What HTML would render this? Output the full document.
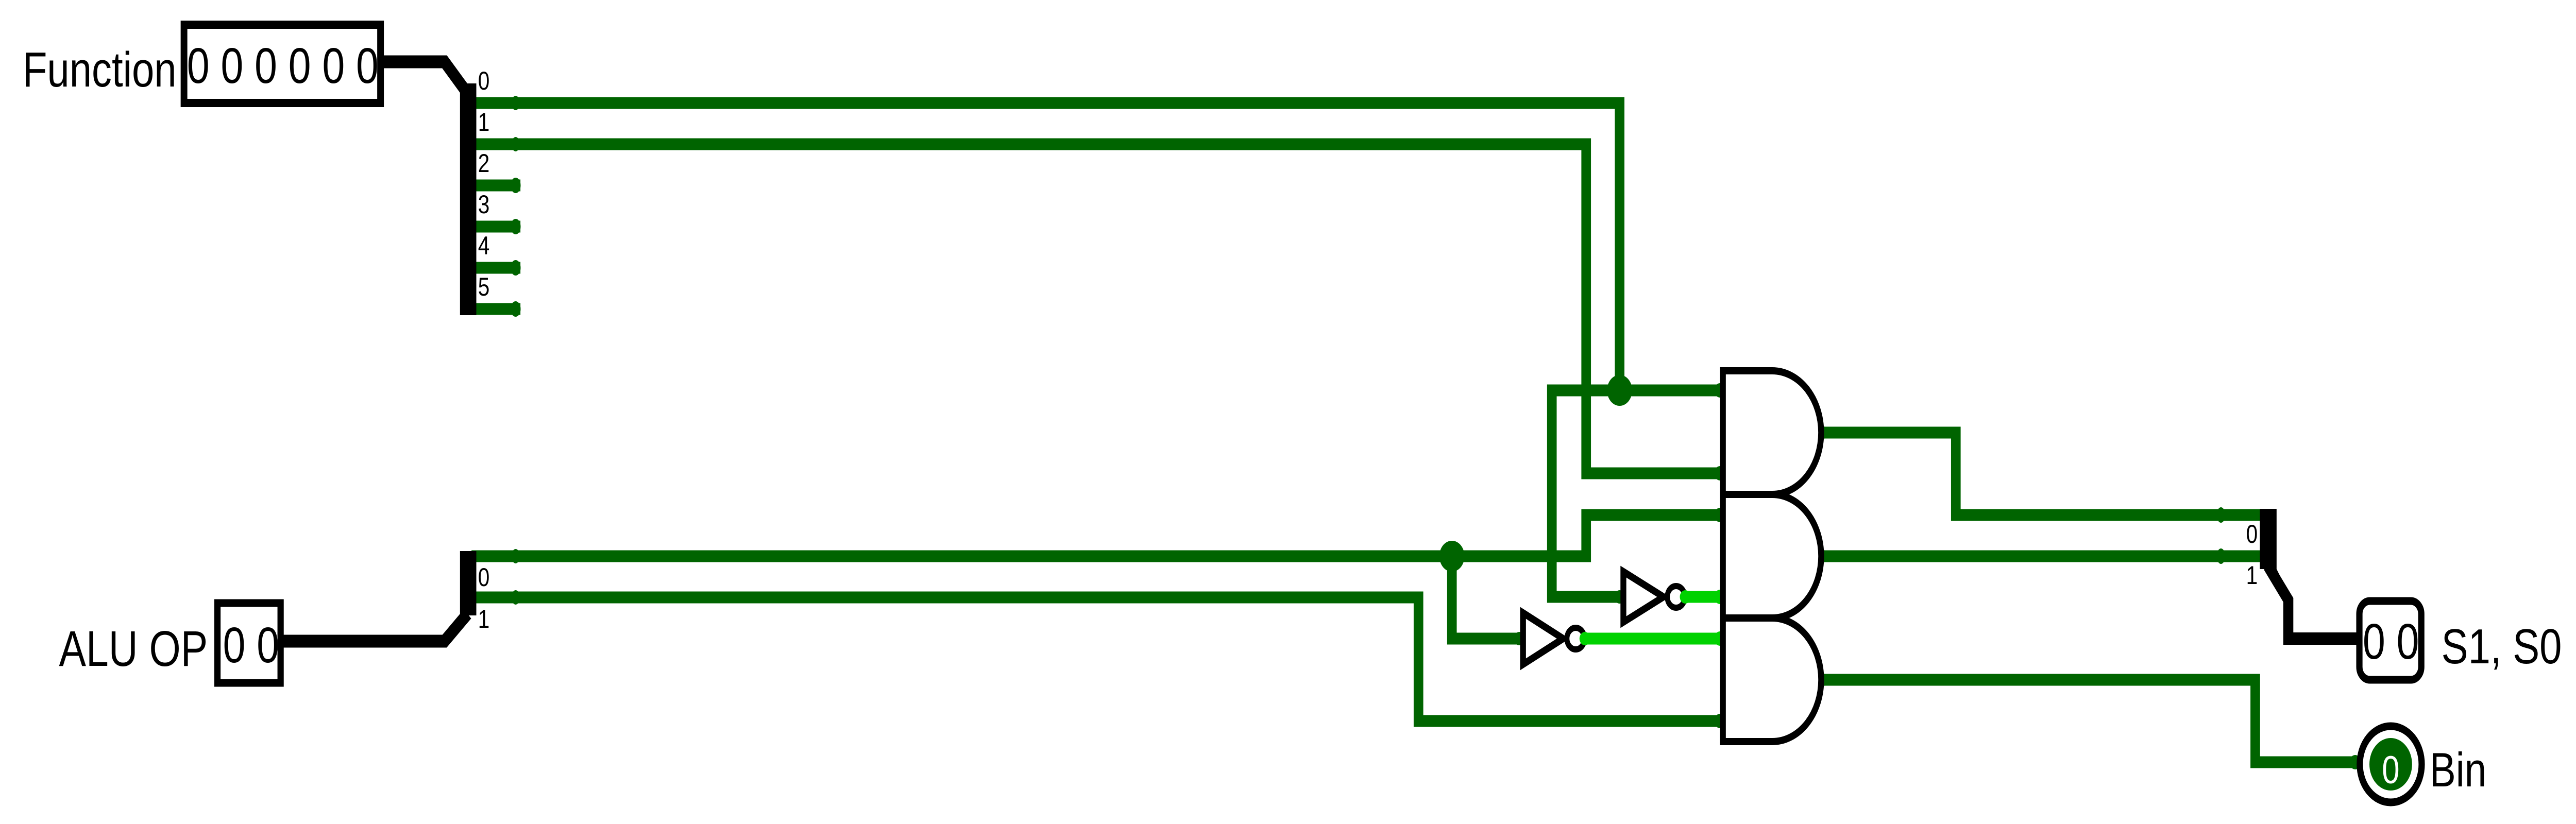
<!DOCTYPE html>
<html><head><meta charset="utf-8"><style>
html,body{margin:0;padding:0;background:#fff;width:100%;height:100%;overflow:hidden;}
svg{display:block;width:100vw;height:100vh;font-family:"Liberation Sans",sans-serif;}
</style></head><body>
<svg viewBox="0 0 6160 1600" preserveAspectRatio="none" xmlns="http://www.w3.org/2000/svg">
<rect width="6160" height="1600" fill="#fff"/>

<g fill="none" stroke="#006400" stroke-width="23" stroke-linejoin="miter" stroke-linecap="square">
  <path d="M1139 200 H3873 V758"/>
  <path d="M1139 280 H3793 V919 H4113"/>
  <path d="M1139 360 H1233"/>
  <path d="M1139 440 H1233"/>
  <path d="M1139 520 H1233"/>
  <path d="M1139 600 H1233"/>
  <path d="M4113 758 H3711 V1159 H3873"/>
  <path d="M1139 1080 H3793 V1000 H4113"/>
  <path d="M3472 1080 V1240 H3633"/>
  <path d="M1139 1160 H3392 V1400 H4113"/>
  <path d="M4355 840 H4677 V1000 H5404"/>
  <path d="M4355 1080 H5404"/>
  <path d="M4355 1320 H5393 V1480 H5630"/>
</g>
<g stroke="#00d200" stroke-width="23" stroke-linecap="round" fill="none">
  <path d="M4033 1159 H4113"/>
  <path d="M3793 1240 H4113"/>
</g>

<g fill="#006400">
  <circle cx="3873" cy="758" r="30"/>
  <circle cx="3472" cy="1080" r="30"/>
  <ellipse cx="1233" cy="200" rx="10" ry="14"/><ellipse cx="1233" cy="280" rx="10" ry="14"/>
  <ellipse cx="1233" cy="360" rx="12" ry="15"/><ellipse cx="1233" cy="440" rx="12" ry="15"/>
  <ellipse cx="1233" cy="520" rx="12" ry="15"/><ellipse cx="1233" cy="600" rx="12" ry="15"/>
  <ellipse cx="1233" cy="1080" rx="10" ry="14"/><ellipse cx="1233" cy="1160" rx="10" ry="14"/>
  <circle cx="4113" cy="758" r="14"/><circle cx="4113" cy="919" r="14"/>
  <circle cx="4113" cy="1000" r="14"/><circle cx="4113" cy="1400" r="14"/>
  <circle cx="4355" cy="840" r="14"/><circle cx="4355" cy="1080" r="14"/><circle cx="4355" cy="1320" r="14"/>
  <circle cx="3873" cy="1159" r="13"/><circle cx="3633" cy="1240" r="13"/>
  <ellipse cx="5311" cy="1000" rx="10" ry="15"/><ellipse cx="5311" cy="1080" rx="10" ry="15"/>
  <circle cx="5632" cy="1480" r="14"/>
</g>
<g fill="#00d200"><circle cx="4113" cy="1159" r="14"/><circle cx="4113" cy="1240" r="14"/></g>

<g fill="#fff" stroke="#000" stroke-width="14" stroke-linejoin="miter">
  <path d="M4120 720 H4238 A117 120 0 0 1 4238 960 H4120 Z"/>
  <path d="M4120 960 H4238 A117 120 0 0 1 4238 1200 H4120 Z"/>
  <path d="M4120 1200 H4238 A117 120 0 0 1 4238 1440 H4120 Z"/>
  <path d="M3882 1110 L3978 1159 L3882 1208 Z"/>
  <circle cx="4008" cy="1159" r="21" stroke-width="12"/>
  <path d="M3642 1190 L3738 1240 L3642 1290 Z"/>
  <circle cx="3768" cy="1240" r="21" stroke-width="12"/>
</g>
<g fill="#00d200"><circle cx="4030" cy="1159" r="13"/><circle cx="3790" cy="1240" r="13"/></g>

<rect x="440" y="48" width="470" height="152" fill="#fff" stroke="#000" stroke-width="16"/>
<text x="447" y="161" font-size="97" fill="#000">0 0 0 0 0 0</text>
<text x="54" y="168" font-size="96" fill="#000">Function</text>
<path d="M910 120 H1063 L1115 178" fill="none" stroke="#000" stroke-width="25"/>
<rect x="1100" y="162" width="39" height="450" fill="#000"/>
<g font-size="50" fill="#000">
  <text x="1143" y="174">0</text><text x="1143" y="254">1</text><text x="1143" y="334">2</text>
  <text x="1143" y="414">3</text><text x="1143" y="494">4</text><text x="1143" y="574">5</text>
</g>

<rect x="520" y="1171" width="151" height="155" fill="#fff" stroke="#000" stroke-width="15"/>
<text x="533" y="1286" font-size="97" fill="#000">0 0</text>
<text x="141" y="1293" font-size="97" fill="#000">ALU OP</text>
<path d="M671 1245 H1063 L1118 1192" fill="none" stroke="#000" stroke-width="25"/>
<rect x="1100" y="1070" width="39" height="125" fill="#000"/>
<g font-size="50" fill="#000"><text x="1143" y="1138">0</text><text x="1143" y="1219">1</text></g>

<rect x="5404" y="988" width="40" height="117" fill="#000"/>
<path d="M5424 1100 L5472 1165 V1240 H5640" fill="none" stroke="#000" stroke-width="24" stroke-linejoin="miter"/>
<path d="M5410 1100 L5461 1168 L5483 1168 L5444 1105 Z" fill="#000"/>
<g font-size="50" fill="#000"><text x="5371" y="1054">0</text><text x="5371" y="1134">1</text></g>

<rect x="5642" y="1167" width="148" height="153" rx="25" fill="#fff" stroke="#000" stroke-width="15"/>
<text x="5650" y="1279" font-size="97" fill="#000">0 0</text>
<text x="5838" y="1288" font-size="96" fill="#000">S1, S0</text>

<circle cx="5717" cy="1484" r="74" fill="#fff" stroke="#000" stroke-width="15"/>
<circle cx="5717" cy="1484" r="51" fill="#006400"/>
<text x="5717" y="1521" font-size="76" fill="#fff" text-anchor="middle">0</text>
<text x="5810" y="1527" font-size="94" fill="#000">Bin</text>
</svg>
</body></html>
